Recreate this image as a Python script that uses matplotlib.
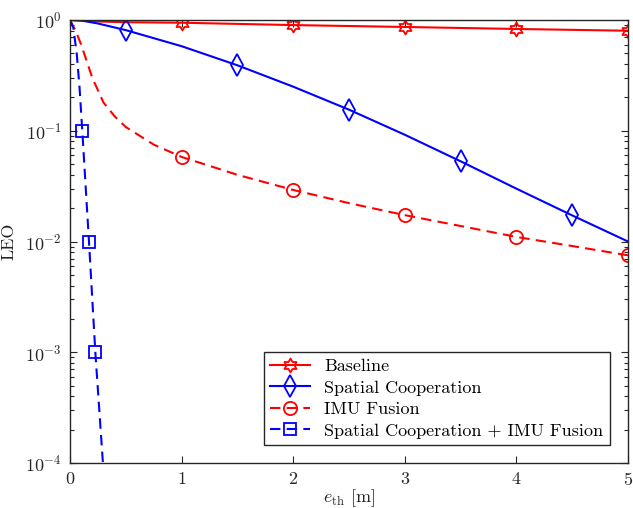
import matplotlib
matplotlib.use('Agg')
import matplotlib.pyplot as plt
import numpy as np
from matplotlib.path import Path

# Данные
x_base = [0, 0.25, 0.5, 1, 2, 3, 4, 5]
y_base = [1.0, 0.97, 0.955, 0.945, 0.90, 0.865, 0.83, 0.80]
mk_base = [3, 4, 5, 6, 7]

x_sc = [0, 0.1, 0.25, 0.5, 1, 1.5, 2, 2.5, 3, 3.5, 4, 4.5, 5]
y_sc = [1.0, 0.99, 0.93, 0.81, 0.58, 0.39, 0.25, 0.155, 0.092, 0.053, 0.030, 0.0172, 0.0100]
mk_sc = [3, 5, 7, 9, 11]

x_imu = [0, 0.05, 0.1, 0.2, 0.3, 0.4, 0.5, 0.75, 1, 1.5, 2, 2.5, 3, 3.5, 4, 4.5, 5]
y_imu = [1.0, 0.8, 0.6, 0.3, 0.18, 0.135, 0.108, 0.075, 0.058, 0.040, 0.0292, 0.0222, 0.0173, 0.0138, 0.0110, 0.0091, 0.0075]
mk_imu = [8, 10, 12, 14, 16]

x_both = [0, 0.03, 0.06, 0.085, 0.11, 0.17, 0.227, 0.295]
y_both = [1.0, 0.85, 0.5, 0.25, 0.1, 0.01, 0.001, 1e-4]
mk_both = [4, 5, 6]

labels = ['Baseline', 'Spatial Cooperation', 'IMU Fusion',
          'Spatial Cooperation + IMU Fusion']

plt.rcParams['font.family'] = 'serif'
plt.rcParams['font.serif'] = ['cmr10', 'DejaVu Serif']
plt.rcParams['mathtext.fontset'] = 'cm'
plt.rcParams['axes.formatter.use_mathtext'] = True
plt.rcParams['font.size'] = 13

# гексаграмма как в MATLAB
ang = np.pi / 2 + np.arange(12) * np.pi / 6
rad = np.where(np.arange(12) % 2 == 0, 1.0, 1 / np.sqrt(3))
verts = np.column_stack([rad * np.cos(ang), rad * np.sin(ang)])
verts = np.vstack([verts, verts[:1]])
hexagram = Path(verts, closed=True)

fig = plt.figure(figsize=(6.33, 5.08), dpi=100)
ax = fig.add_axes([70 / 633, 45 / 508, 558 / 633, 443 / 508])

lw = 1.5
ax.plot(x_base, y_base, '-', color='red', lw=lw, marker=hexagram, ms=10,
        mfc='none', mew=1.3, markevery=mk_base, label=labels[0])
ax.plot(x_sc, y_sc, '-', color='blue', lw=lw, marker='d', ms=11,
        mfc='none', mew=1.3, markevery=mk_sc, label=labels[1])
ax.plot(x_imu, y_imu, color='red', lw=lw, dashes=(5, 3), marker='o', ms=9.5,
        mfc='none', mew=1.3, markevery=mk_imu, label=labels[2])
ax.plot(x_both, y_both, color='blue', lw=lw, dashes=(5, 3), marker='s', ms=8.5,
        mfc='none', mew=1.3, markevery=mk_both, label=labels[3])

ax.set_yscale('log')
ax.set_xlim(0, 5)
ax.set_ylim(1e-4, 1)
ax.set_xticks(range(6))
ax.set_yticks([1e-4, 1e-3, 1e-2, 1e-1, 1])
ax.tick_params(which='both', direction='in', top=True, right=True,
               colors='0.15', labelsize=13)
ax.tick_params(which='major', length=5, width=0.8, pad=6)
ax.tick_params(which='minor', length=3, width=0.8)
for s in ax.spines.values():
    s.set_color('0.15')
    s.set_linewidth(1.0)

ax.set_xlabel(r'$e_{\rm th}$ [m]', color='0.15', labelpad=-1, fontsize=13)
ax.set_ylabel('LEO', color='0.15', labelpad=6, fontsize=13)

leg = ax.legend(loc='lower right', fancybox=False, framealpha=1,
                edgecolor='0.15', handlelength=2.2, borderaxespad=1.0,
                labelspacing=0.32, fontsize=13, borderpad=0.35)
leg.get_frame().set_linewidth(1.0)

fig.savefig('out.png', dpi=100)
